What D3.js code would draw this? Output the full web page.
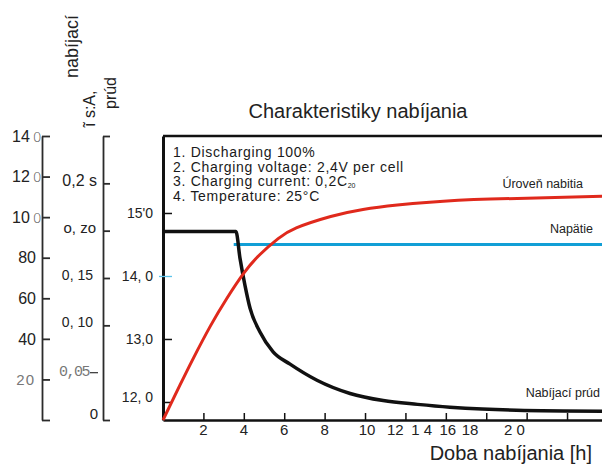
<!DOCTYPE html>
<html lang="sk">
<head>
<meta charset="UTF-8">
<title>Charakteristiky nabíjania</title>
<script src="https://cdn.jsdelivr.net/npm/d3@7"></script>
<style>
  body { margin: 0; background: #fff; }
  svg { display: block; font-family: "Liberation Sans", Arial, sans-serif; }
</style>
</head>
<body>
<div id="container"></div>
<script>
// --- data ---
// charge level (%) vs charging time (h)
const chargeHours = [0, 0.85, 1.5, 2.35, 3.15, 4.0, 4.8, 5.7, 6.6, 8.3, 9.9, 11.6, 13.2, 16.2, 21.73]
const chargeLevel = [0, 17.4, 30.4, 46.4, 59.8, 72.4, 81.6, 89.4, 94.7, 100.3, 103.8, 106.0, 107.4, 108.9, 110.3]
// charging current (CA)
const currentHours = [0, 3.61, 3.81, 4.06, 4.31, 4.8, 5.45, 6.29, 7.62, 9.26, 10.9, 12.6, 14.2, 15.8, 17.5, 21.73]
const currentValues = [0.199, 0.199, 0.171, 0.142, 0.118, 0.093, 0.072, 0.059, 0.042, 0.028, 0.0205, 0.0165, 0.0135, 0.0115, 0.0103, 0.0093]
// voltage (V)
const voltageHours = [3.5, 21.73]
const voltageValues = [14.5, 14.5]

// tick values + labels (labels copied as printed)
const xTicks = [2, 4, 6, 8, 10, 12, 14, 16, 18, 20]
const xLabels = ["2", "4", "6", "8", "10", "12", "1 4", "16", "18", "2 0"]
const xLabelAt = [2, 4, 6, 8, 10.1, 11.5, 12.8, 14.1, 15.2, 17.4] // printed label spots, in hours
const pctTicks = [0, 20, 40, 60, 80, 100, 120, 140]
const pctLabels = ["", "20", "40", "60", "80", "10", "12", "14"]
const curTicks = [0, 0.1, 0.15, 0.2, 0.25, 0.3]
const curLabels = [["0", 0], ["0,05", 0.05], ["0, 10", 0.1], ["0, 15", 0.15], ["o, zo", 0.2], ["0,2 s", 0.25]]
const voltTicks = [12, 13, 14, 15]
const voltLabels = ["12, 0", "13,0", "14, 0", "15'0"]
const notes = ["1. Discharging 100%", "2. Charging voltage: 2,4V per cell", "3. Charging current: 0,2C", "4. Temperature: 25°C"]

const W = 602, H = 464
const plotTop = 136, plotBottom = 420, plotLeft = 163

const svg = d3.select("#container").append("svg").attr("width", W).attr("height", H)

// scales
const x = d3.scaleLinear([0, 21.73], [plotLeft, W])
const yPct = d3.scaleLinear([0, 140], [plotBottom, plotTop])
const yCur = d3.scaleLinear([0, 0.3], [plotBottom, plotTop])
const yVolt = d3.scaleLinear([11.714, 16.222], [plotBottom, plotTop])

const axisColor = "#2b2b2b"

// axis 1 : charge level %
const ax1 = svg.append("g").attr("transform", "translate(42,0)")
  .call(d3.axisLeft(yPct).tickValues(pctTicks).tickSizeInner(-8).tickSizeOuter(0).tickFormat(""))
ax1.selectAll("path, line").attr("stroke", axisColor).attr("stroke-width", 1.8)
pctTicks.forEach((v, i) => {
  if (!pctLabels[i]) return
  const t = svg.append("text").attr("y", yPct(v)).attr("dy", "0.36em").attr("font-size", 16).attr("fill", "#222")
  if (v >= 100) {
    t.attr("x", 12).text(pctLabels[i])
    t.append("tspan").attr("dx", 3).attr("fill", "#555").attr("font-family", "DejaVu Sans").attr("font-weight", 200).attr("font-size", 14).text("0")
  } else if (v === 20) {
    t.attr("x", 35).attr("text-anchor", "end").attr("fill", "#777").attr("font-size", 15).attr("letter-spacing", 1).text("20")
  } else {
    t.attr("x", 36).attr("text-anchor", "end").text(pctLabels[i])
  }
})

// axis 2 : charging current CA
const ax2 = svg.append("g").attr("transform", "translate(103,0)")
  .call(d3.axisLeft(yCur).tickValues(curTicks).tickSizeInner(-7).tickSizeOuter(0).tickFormat(""))
ax2.selectAll("path, line").attr("stroke", axisColor).attr("stroke-width", 1.8)
svg.append("line").attr("x1", 90).attr("x2", 98).attr("y1", yCur(0.05)).attr("y2", yCur(0.05))
  .attr("stroke", "#444").attr("stroke-width", 1.3)
curLabels.forEach(([lab, v]) => {
  const t = svg.append("text").attr("text-anchor", "end").attr("y", yCur(v) - 3).attr("dy", "0.36em")
    .attr("font-size", 14).attr("fill", "#222").text(lab)
  if (v === 0) t.attr("x", 98).attr("font-size", 15).attr("y", yCur(v) - 6)
  else if (v === 0.05) t.attr("x", 89).attr("fill", "#777").attr("font-family", "Liberation Mono").attr("font-size", 15).attr("letter-spacing", -1.5).attr("y", yCur(v) - 2)
  else if (v === 0.25) t.attr("x", 97).attr("font-size", 16)
  else if (v === 0.2) t.attr("x", 96).attr("font-size", 15)
  else t.attr("x", 93)
})
// rotated axis title
const rot = (txt, cx, y0, fs) => svg.append("text").attr("transform", `translate(${cx},${y0}) rotate(-90)`)
  .attr("font-size", fs).attr("fill", "#222").attr("dy", "0.35em").text(txt)
rot("nabíjací", 72, 78, 18)
rot("ĩ s:A,", 89, 127, 16)
rot("prúd", 110, 109, 16)

// axis 3 : voltage (plot left edge)
const ax3 = svg.append("g").attr("transform", `translate(${plotLeft},0)`)
  .call(d3.axisLeft(yVolt).tickValues(voltTicks).tickSizeInner(-9).tickSizeOuter(0).tickFormat(""))
ax3.select("path").attr("stroke", "#111").attr("stroke-width", 3)
ax3.selectAll("line").attr("stroke", "#111").attr("stroke-width", 1.5)
ax3.selectAll(".tick").filter(d => d === 14).select("line")
  .attr("x1", -4).attr("x2", 9).attr("stroke", "#5cc3ea").attr("stroke-width", 1.3)
voltTicks.forEach((v, i) => {
  svg.append("text").attr("x", 153).attr("text-anchor", "end")
    .attr("y", yVolt(v) - (v === 12 ? 5 : 0)).attr("dy", "0.36em")
    .attr("font-size", 14).attr("fill", "#222").text(voltLabels[i])
})

// top frame
svg.append("line").attr("x1", x.range()[0]).attr("x2", x.range()[1]).attr("y1", plotTop).attr("y2", plotTop)
  .attr("stroke", "#111").attr("stroke-width", 2.5)

// x axis
const axX = svg.append("g").attr("transform", `translate(0,${plotBottom})`)
  .call(d3.axisBottom(x).tickValues(xTicks).tickSizeInner(-7).tickSizeOuter(0).tickFormat(""))
axX.select("path").attr("stroke", "#111").attr("stroke-width", 2.5)
axX.selectAll("line").attr("stroke", "#111").attr("stroke-width", 1.5)
svg.append("g").selectAll("text").data(xLabels).join("text")
  .attr("x", (d, i) => x(xLabelAt[i])).attr("y", 435).attr("text-anchor", "middle")
  .attr("font-size", 15).attr("fill", "#222").text(d => d)
svg.append("text").attr("x", 592).attr("y", 460).attr("text-anchor", "end")
  .attr("font-size", 20).attr("fill", "#222").text("Doba nabíjania [h]")

// title
svg.append("text").attr("x", 358).attr("y", 118).attr("text-anchor", "middle")
  .attr("font-size", 20).attr("fill", "#222").text("Charakteristiky nabíjania")

// notes
const nt = svg.append("g").attr("font-size", 14).attr("letter-spacing", 0.7).attr("fill", "#1a1a1a")
notes.forEach((n, i) => {
  const t = nt.append("text").attr("x", 173).attr("y", 157 + i * 14.7).text(n)
  if (i === 2) t.append("tspan").attr("font-size", 7).attr("letter-spacing", 0).attr("dy", 2).text("20")
})

// curves
const line = (yS, c) => d3.line().x(d => x(d[0])).y(d => yS(d[1])).curve(c)
svg.append("path").datum(d3.zip(voltageHours, voltageValues)).attr("d", line(yVolt, d3.curveLinear))
  .attr("fill", "none").attr("stroke", "#119fd6").attr("stroke-width", 3)
svg.append("path").datum(d3.zip(currentHours, currentValues)).attr("d", line(yCur, d3.curveMonotoneX))
  .attr("fill", "none").attr("stroke", "#111").attr("stroke-width", 3.5)
svg.append("path").datum(d3.zip(chargeHours, chargeLevel)).attr("d", line(yPct, d3.curveNatural))
  .attr("fill", "none").attr("stroke", "#e0291c").attr("stroke-width", 3)

// curve labels
const lab = (txt, xe, y) => svg.append("text").attr("x", xe).attr("y", y).attr("text-anchor", "end")
  .attr("font-size", 12.5).attr("fill", "#222").text(txt)
lab("Úroveň nabitia", 583, 188)
lab("Napätie", 593, 233)
lab("Nabíjací prúd", 600, 397)
</script>
</body>
</html>
